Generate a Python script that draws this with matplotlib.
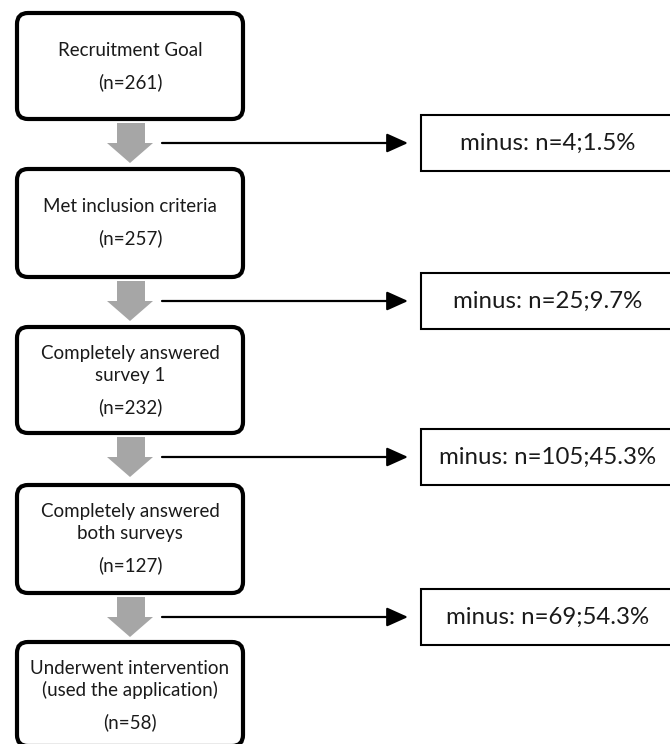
import matplotlib
matplotlib.use("Agg")
import matplotlib.pyplot as plt
from matplotlib.patches import FancyBboxPatch, Rectangle

stage_labels = [
    "Recruitment Goal",
    "Met inclusion criteria",
    "Completely answered\nsurvey 1",
    "Completely answered\nboth surveys",
    "Underwent intervention\n(used the application)",
]
stage_n = [261, 257, 232, 127, 58]
excluded_n = [4, 25, 105, 69]
excluded_pct = [1.5, 9.7, 45.3, 54.3]

# layout (pixel units, y grows downward)
box_left, box_right = 17, 243
box_tops = [13, 169, 327, 485, 642]
box_bottoms = [119, 277, 433, 593, 746]
side_left, side_right = 421, 675
side_h = 56
gray = "#a6a6a6"
line_gap = 22

plt.rcParams["font.family"] = ["Lato", "DejaVu Sans"]

fig = plt.figure(figsize=(6.7, 7.44), dpi=100)
ax = fig.add_axes([0, 0, 1, 1])
ax.set_xlim(0, 670)
ax.set_ylim(744, 0)
ax.axis("off")

cx = (box_left + box_right) / 2

# main boxes
for label, n, top, bot in zip(stage_labels, stage_n, box_tops, box_bottoms):
    ax.add_patch(FancyBboxPatch((box_left, top), box_right - box_left, bot - top,
                                boxstyle="round,pad=0,rounding_size=11",
                                fc="white", ec="black", lw=3.0, zorder=2))
    lines = label.split("\n")
    n_y = top + (80 if len(lines) > 1 else 69)
    last_y = n_y - 32
    for k, line in enumerate(lines):
        y = last_y - (len(lines) - 1 - k) * line_gap
        ax.text(cx, y, line, ha="center", va="center", fontsize=13.5,
                color="#1a1a1a", zorder=3)
    ax.text(cx, n_y, f"(n={n})", ha="center", va="center", fontsize=13.5,
            color="#1a1a1a", zorder=3)

# down arrows + exclusion arrows/boxes
for i, (ex, pct) in enumerate(zip(excluded_n, excluded_pct)):
    y0 = box_bottoms[i] + 4
    mid = y0 + 20
    tip = y0 + 40
    xs = [117, 145, 145, 153, cx, 107, 117]
    ys = [y0, y0, mid, mid, tip, mid, mid]
    ax.fill(xs, ys, color=gray, lw=0, zorder=1)

    ax.annotate("", xy=(408, mid), xytext=(162, mid),
                arrowprops=dict(arrowstyle="-|>,head_length=1.0,head_width=0.45",
                                mutation_scale=13, lw=1.6, color="black",
                                shrinkA=0, shrinkB=0))
    ax.add_patch(Rectangle((side_left, mid - side_h / 2), side_right - side_left, side_h,
                           fc="white", ec="black", lw=1.5))
    ax.text((side_left + side_right) / 2, mid, f"minus: n={ex};{pct}%",
            ha="center", va="center", fontsize=17.3, color="#1a1a1a")

fig.savefig("out.png", dpi=100)
